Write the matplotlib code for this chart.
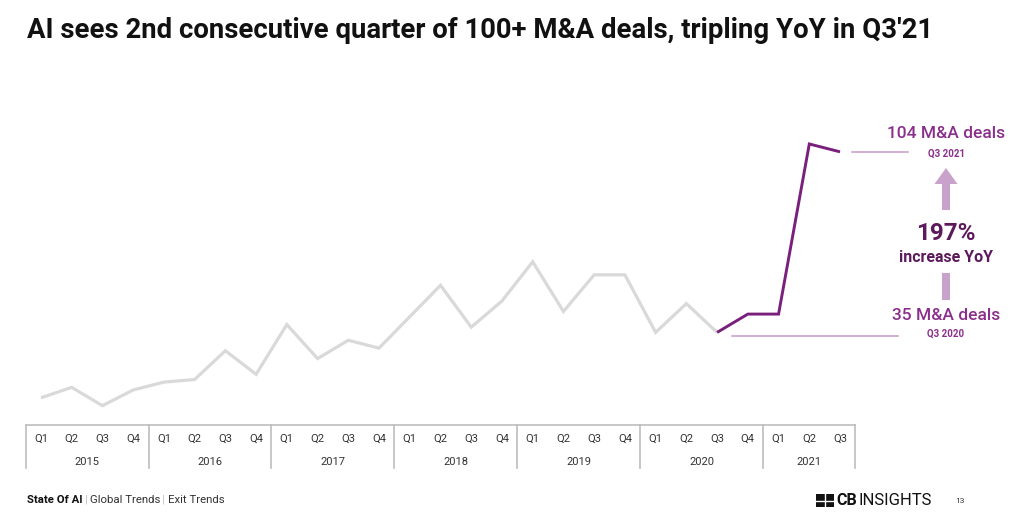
import matplotlib

matplotlib.use("Agg")
import matplotlib.pyplot as plt
from matplotlib.patches import FancyArrow, Rectangle

# --- data: quarterly AI M&A deals, Q1'15 .. Q3'21 ---
years = ["2015", "2016", "2017", "2018", "2019", "2020", "2021"]
quarters = ["Q1", "Q2", "Q3", "Q4"]
deals = [10, 14, 7, 13, 16, 17, 28, 19,
         38, 25, 32, 29, 41, 53, 37, 47,
         62, 43, 57, 57, 35, 46, 35, 42,
         42, 107, 104]
split_idx = 22  # Q3 2020: purple from here on

GRAY = "#D9D9D9"
PURPLE = "#7A1F7B"
TEXT_PURPLE = "#8A2F8B"
DARK_PURPLE = "#5C1A5D"
LIGHT = "#C9A2CB"
TXT = "#333333"

plt.rcParams["font.family"] = ["Roboto", "DejaVu Sans"]

W, H = 1024, 524
fig = plt.figure(figsize=(W / 100, H / 100), dpi=100, facecolor="white")


def fx(px):
    return px / W


def fy(py):
    return 1 - py / H


# main axes: x pixels 25.6..855.4, y pixel 424 is zero
x0, x1 = 25.6, 855.4
y_zero, y_top = 424.0, 100.0
px_per_deal = 2.617
ax = fig.add_axes([fx(x0), fy(y_zero), fx(x1 - x0), (y_zero - y_top) / H])
ax.set_xlim(-0.5, 26.5)
ax.set_ylim(0, (y_zero - y_top) / px_per_deal)
ax.axis("off")

xs = list(range(len(deals)))
ax.plot(xs[:split_idx + 1], deals[:split_idx + 1], color=GRAY, lw=2.3,
        solid_joinstyle="miter", solid_capstyle="butt")
ax.plot(xs[split_idx:], deals[split_idx:], color=PURPLE, lw=2.1,
        solid_joinstyle="miter", solid_capstyle="butt")

# reference lines to annotations
ax.plot([26.4, 28.2], [deals[-1], deals[-1]], color=LIGHT, lw=1.2, clip_on=False)
ax.plot([22.5, 27.9], [deals[split_idx] - 1.4, deals[split_idx] - 1.4],
        color=LIGHT, lw=1.2, clip_on=False)

# overlay in pixel coordinates
ov = fig.add_axes([0, 0, 1, 1])
ov.set_xlim(0, W)
ov.set_ylim(H, 0)
ov.axis("off")

ov.text(27, 30, "AI sees 2nd consecutive quarter of 100+ M&A deals, tripling YoY in Q3'21",
        ha="left", va="center", fontsize=19.8, fontweight="bold", color="#111111")

# table-like x axis
cell = (x1 - x0) / len(deals)
ov.plot([x0, x1], [424.5, 424.5], color="#BDBDBD", lw=1.2)
n = len(deals)
for k in range(0, n, 4):
    xb = x0 + k * cell
    ov.plot([xb, xb], [424.5, 468], color="#BDBDBD", lw=1.2)
ov.plot([x1, x1], [424.5, 468], color="#BDBDBD", lw=1.2)
for i in range(n):
    ov.text(x0 + (i + 0.5) * cell, 439, quarters[i % 4], ha="center", va="center",
            fontsize=8, color=TXT)
for j, yr in enumerate(years):
    k0 = j * 4
    k1 = min(k0 + 4, n)
    ov.text(x0 + (k0 + k1) / 2 * cell, 462, yr, ha="center", va="center",
            fontsize=8, color=TXT)

# annotations
cx = 946
ov.text(cx, 134, f"{deals[-1]} M&A deals", ha="center", va="center",
        fontsize=12.5, color=TEXT_PURPLE, fontweight="medium")
ov.text(cx, 154, "Q3 2021", ha="center", va="center", fontsize=7,
        color=TEXT_PURPLE, fontweight="bold")
ov.add_patch(FancyArrow(cx, 210, 0, -42, width=8, head_width=23, head_length=16,
                        length_includes_head=True, color=LIGHT, lw=0))
ov.text(cx, 234, "197%", ha="center", va="center", fontsize=17.5,
        fontweight="bold", color=DARK_PURPLE)
ov.text(cx, 258, "increase YoY", ha="center", va="center", fontsize=11.5,
        fontweight="bold", color=DARK_PURPLE)
ov.add_patch(Rectangle((cx - 4, 273), 8, 27, color=LIGHT, lw=0))
ov.text(cx, 315, f"{deals[split_idx]} M&A deals", ha="center", va="center",
        fontsize=12.5, color=TEXT_PURPLE, fontweight="medium")
ov.text(cx, 334, "Q3 2020", ha="center", va="center", fontsize=7,
        color=TEXT_PURPLE, fontweight="bold")

# footer
ov.text(27, 500, "State Of AI", ha="left", va="center", fontsize=8.2,
        fontweight="bold", color="#111111")
ov.text(85, 500, "|", ha="left", va="center", fontsize=8, color="#BBBBBB")
ov.text(90, 500, "Global Trends", ha="left", va="center", fontsize=8.2, color="#333333")
ov.text(162, 500, "|", ha="left", va="center", fontsize=8, color="#BBBBBB")
ov.text(168, 500, "Exit Trends", ha="left", va="center", fontsize=8.2, color="#333333")

# logo
ov.add_patch(Rectangle((816, 494), 18, 13, color="#111111", lw=0))
ov.plot([825, 825], [494, 507], color="white", lw=1.0)
ov.plot([816, 834], [500.5, 500.5], color="white", lw=1.0)
ov.text(836, 500.5, "CB", ha="left", va="center", fontsize=11.5, fontweight="bold",
        color="#111111")
ov.text(858, 500.5, "INSIGHTS", ha="left", va="center", fontsize=12,
        color="#111111")
ov.text(960, 501, "13", ha="center", va="center", fontsize=6, color="#333333")

fig.savefig("out.png", dpi=100, facecolor="white")
